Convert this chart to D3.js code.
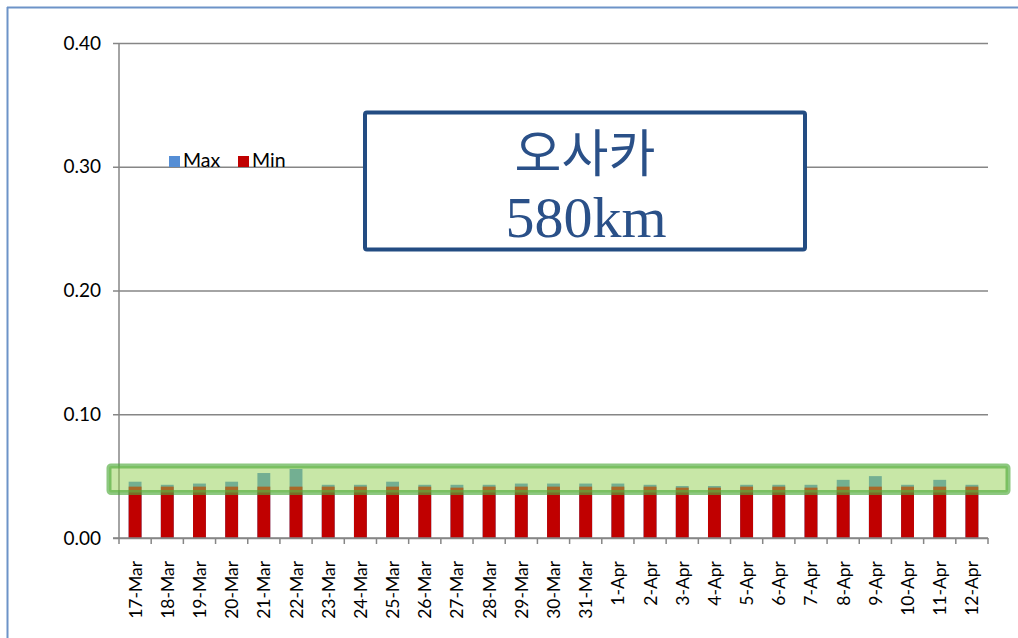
<!DOCTYPE html>
<html>
<head>
<meta charset="utf-8">
<script src="https://cdn.jsdelivr.net/npm/d3@7"></script>
<style>
  html, body { margin: 0; padding: 0; background: #fff; }
  svg { display: block; }
</style>
</head>
<body>
<svg id="chart" width="1018" height="638"></svg>
<script>
const categories = ["17-Mar","18-Mar","19-Mar","20-Mar","21-Mar","22-Mar","23-Mar","24-Mar","25-Mar","26-Mar","27-Mar","28-Mar","29-Mar","30-Mar","31-Mar","1-Apr","2-Apr","3-Apr","4-Apr","5-Apr","6-Apr","7-Apr","8-Apr","9-Apr","10-Apr","11-Apr","12-Apr"];
const maxValues = [0.0455,0.043,0.044,0.0455,0.0525,0.0558,0.043,0.043,0.0455,0.043,0.043,0.043,0.044,0.044,0.044,0.044,0.043,0.042,0.042,0.043,0.043,0.043,0.047,0.050,0.043,0.047,0.043];
const minValues = [0.0415,0.0415,0.0415,0.0415,0.0415,0.0415,0.0415,0.0415,0.0415,0.0415,0.0407,0.0415,0.0415,0.0415,0.0415,0.0415,0.0415,0.0407,0.0407,0.0415,0.0415,0.0407,0.0415,0.0415,0.0415,0.0415,0.0415];
const yTicks = [0, 0.1, 0.2, 0.3, 0.4];
const seriesNames = ["Max", "Min"];
const highlightBand = [0.0368, 0.0582];
const titleLines = ["오사카", "580km"];

const svg = d3.select("#chart");
const m = { left: 119, right: 988, top: 43, bottom: 538 };

const x = d3.scaleBand().domain(categories).range([m.left, m.right]).paddingInner(0.6).paddingOuter(0.3);
const y = d3.scaleLinear().domain([0, 0.4]).range([m.bottom, m.top]);
const colors = { Max: "#558ed5", Min: "#c00000" };
const axisColor = "#868686";
const font = "Lato, 'Open Sans', sans-serif";

// frame (top and left)
svg.append("line").attr("x1", 7).attr("x2", 1018).attr("y1", 7.5).attr("y2", 7.5).attr("stroke", "#6d93c8").attr("stroke-width", 2);
svg.append("line").attr("x1", 7.5).attr("x2", 7.5).attr("y1", 7).attr("y2", 638).attr("stroke", "#6d93c8").attr("stroke-width", 2);

// gridlines + y axis
const yAxis = d3.axisLeft(y).tickValues(yTicks).tickFormat(d3.format(".2f")).tickSize(-(m.right - m.left)).tickPadding(18);
const gy = svg.append("g").attr("transform", `translate(${m.left},0)`).call(yAxis);
gy.select(".domain").remove();
gy.selectAll(".tick line").attr("x1", -6).attr("stroke", axisColor).attr("stroke-width", 1.5);
gy.selectAll(".tick text").attr("font-family", font).attr("font-size", "19px").attr("fill", "#000");

// bars
const step = x.step();
svg.append("g").selectAll("rect").data(categories).join("rect")
  .attr("x", d => x(d)).attr("width", x.bandwidth())
  .attr("y", (d, i) => y(maxValues[i])).attr("height", (d, i) => y(0) - y(maxValues[i]))
  .attr("fill", colors.Max);
svg.append("g").selectAll("rect").data(categories).join("rect")
  .attr("x", d => x(d)).attr("width", x.bandwidth())
  .attr("y", (d, i) => y(minValues[i])).attr("height", (d, i) => y(0) - y(minValues[i]))
  .attr("fill", colors.Min);

// y axis line
svg.append("line").attr("x1", m.left).attr("x2", m.left).attr("y1", m.top).attr("y2", m.bottom + 1)
  .attr("stroke", axisColor).attr("stroke-width", 1.5);

// x axis
const gx = svg.append("g").attr("transform", `translate(0,${m.bottom})`);
gx.append("line").attr("x1", m.left - 6).attr("x2", m.right).attr("y1", 0).attr("y2", 0).attr("stroke", axisColor).attr("stroke-width", 1.5);
const bounds = categories.map(d => x(d) - (step - x.bandwidth()) / 2).concat([m.right]);
gx.selectAll(".tk").data(bounds).join("line").attr("class", "tk")
  .attr("x1", d => d).attr("x2", d => d).attr("y1", 0).attr("y2", 6).attr("stroke", axisColor).attr("stroke-width", 1.5);
gx.selectAll(".lbl").data(categories).join("text").attr("class", "lbl")
  .attr("transform", d => `translate(${x(d) + x.bandwidth() / 2},23) rotate(-90)`)
  .attr("text-anchor", "end").attr("dominant-baseline", "central")
  .attr("font-family", font).attr("font-size", "17.5px").attr("fill", "#000")
  .text(d => d);

// highlight band
svg.append("rect")
  .attr("x", m.left - 10).attr("width", 1008 - (m.left - 10))
  .attr("y", y(highlightBand[1])).attr("height", y(highlightBand[0]) - y(highlightBand[1]))
  .attr("rx", 2)
  .attr("fill", "#92d050").attr("fill-opacity", 0.5)
  .attr("stroke", "rgba(80,170,60,0.65)").attr("stroke-width", 5);

// title box
svg.append("rect").attr("x", 365).attr("y", 112.5).attr("width", 440).attr("height", 137)
  .attr("rx", 2).attr("fill", "#fff").attr("stroke", "#234c82").attr("stroke-width", 4);
svg.append("text").attr("x", 585).attr("y", 172).attr("text-anchor", "middle")
  .attr("font-family", "'Noto Sans CJK KR', sans-serif").attr("font-size", "51px").attr("fill", "#2a5088")
  .text(titleLines[0]);
svg.append("text").attr("x", 586).attr("y", 237).attr("text-anchor", "middle")
  .attr("font-family", "'Liberation Serif', 'DejaVu Serif', serif").attr("font-size", "58px").attr("fill", "#2a5088")
  .text(titleLines[1]);

// legend
const legendX = [169, 238];
const lg = svg.append("g");
seriesNames.forEach((s, i) => {
  lg.append("rect").attr("x", legendX[i]).attr("y", 156).attr("width", 11).attr("height", 11).attr("fill", colors[s]);
  lg.append("text").attr("x", legendX[i] + 14).attr("y", 167).attr("font-family", font)
    .attr("font-size", "19.5px").attr("fill", "#000").text(s);
});
</script>
</body>
</html>
